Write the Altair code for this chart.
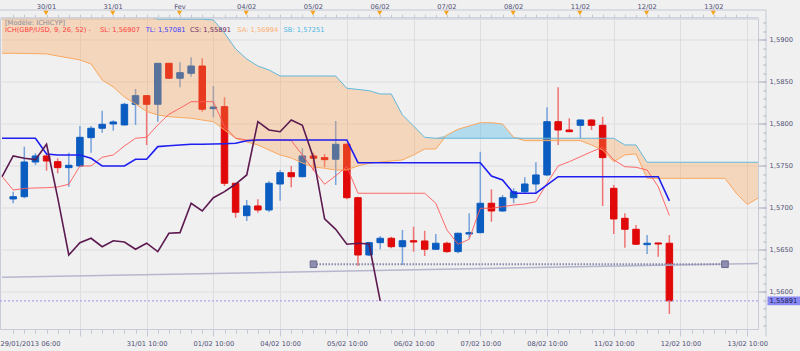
import altair as alt
import pandas as pd

# ---------------- data ----------------
opens = [1.57104, 1.57131, 1.57544, 1.57616, 1.57548, 1.57477, 1.57497, 1.57834, 1.57946, 1.57997,
         1.57985, 1.58231, 1.58334, 1.58231, 1.58719, 1.58541, 1.58600, 1.58687, 1.58179, 1.58203,
         1.57291, 1.56905, 1.57021, 1.56973, 1.57282, 1.57417, 1.57369, 1.57616, 1.57596, 1.57577,
         1.57755, 1.57119, 1.56437, 1.56584, 1.56636, 1.56536, 1.56607, 1.56604, 1.56505, 1.56577,
         1.56477, 1.56687, 1.56703, 1.57053, 1.56961, 1.57119, 1.57191, 1.57282, 1.57390, 1.58024,
         1.57925, 1.57981, 1.58044, 1.57981, 1.57231, 1.56874, 1.56743, 1.56560, 1.56580, 1.56577]
highs = [1.57191, 1.57727, 1.57648, 1.57640, 1.57588, 1.57655, 1.57973, 1.57973, 1.58155, 1.58041,
         1.58250, 1.58413, 1.58342, 1.58723, 1.58723, 1.58731, 1.58791, 1.58779, 1.58449, 1.58315,
         1.57294, 1.57092, 1.57100, 1.57318, 1.57449, 1.57497, 1.57707, 1.57655, 1.57640, 1.58032,
         1.57767, 1.57131, 1.56596, 1.56663, 1.56655, 1.56735, 1.56774, 1.56727, 1.56687, 1.56596,
         1.56703, 1.56934, 1.57667, 1.57219, 1.57152, 1.57231, 1.57362, 1.57541, 1.58196, 1.58434,
         1.58065, 1.58050, 1.58053, 1.58084, 1.57271, 1.56934, 1.56794, 1.56675, 1.56586, 1.56675]
lows = [1.57053, 1.57112, 1.57509, 1.57441, 1.57410, 1.57250, 1.57488, 1.57655, 1.57893, 1.57917,
        1.57981, 1.57985, 1.57747, 1.58024, 1.58533, 1.58434, 1.58560, 1.58143, 1.58077, 1.57259,
        1.56881, 1.56842, 1.56941, 1.56949, 1.57084, 1.57243, 1.57362, 1.57441, 1.57481, 1.57271,
        1.57100, 1.56306, 1.56425, 1.56505, 1.56517, 1.56318, 1.56477, 1.56425, 1.56497, 1.56465,
        1.56457, 1.56636, 1.56696, 1.56834, 1.56953, 1.57053, 1.57172, 1.57172, 1.57378, 1.57747,
        1.57902, 1.57827, 1.57925, 1.57021, 1.56687, 1.56524, 1.56556, 1.56449, 1.56417, 1.55735]
closes = [1.57131, 1.57544, 1.57616, 1.57556, 1.57477, 1.57505, 1.57838, 1.57946, 1.57993, 1.58021,
          1.58231, 1.58334, 1.58231, 1.58719, 1.58541, 1.58608, 1.58687, 1.58172, 1.58199, 1.57291,
          1.56946, 1.57021, 1.56973, 1.57291, 1.57417, 1.57369, 1.57616, 1.57588, 1.57572, 1.57755,
          1.57119, 1.56437, 1.56584, 1.56636, 1.56536, 1.56607, 1.56592, 1.56505, 1.56577, 1.56477,
          1.56696, 1.56703, 1.57053, 1.56961, 1.57119, 1.57191, 1.57282, 1.57390, 1.58024, 1.57925,
          1.57905, 1.58044, 1.57981, 1.57596, 1.56866, 1.56743, 1.56565, 1.56577, 1.56568, 1.55891]

# Tenkan (SL) and Kijun (TL), candle index -1 .. 59
tenkan = [1.57372, 1.57211, 1.57229, 1.57235, 1.57238, 1.57247, 1.57279, 1.57497, 1.57497, 1.57600,
          1.57628, 1.57735, 1.57827, 1.57838, 1.57985, 1.58112, 1.58184, 1.58262, 1.58262, 1.58262,
          1.57965, 1.57827, 1.57806, 1.57806, 1.57806, 1.57806, 1.57798, 1.57628, 1.57449, 1.57279,
          1.57381, 1.57488, 1.57172, 1.57172, 1.57172, 1.57172, 1.57172, 1.57172, 1.57172, 1.57053,
          1.56735, 1.56565, 1.56624, 1.56993, 1.56993, 1.57012, 1.57032, 1.57044, 1.57072, 1.57291,
          1.57497, 1.57548, 1.57607, 1.57667, 1.57719, 1.57568, 1.57488, 1.57481, 1.57449, 1.57250,
          1.56907]
kijun = [1.57827, 1.57827, 1.57827, 1.57827, 1.57640, 1.57628, 1.57628, 1.57628, 1.57588, 1.57497,
         1.57497, 1.57497, 1.57577, 1.57577, 1.57727, 1.57738, 1.57747, 1.57755, 1.57755, 1.57759,
         1.57762, 1.57767, 1.57798, 1.57806, 1.57806, 1.57806, 1.57806, 1.57806, 1.57806, 1.57806,
         1.57806, 1.57806, 1.57536, 1.57536, 1.57536, 1.57536, 1.57536, 1.57536, 1.57536, 1.57536,
         1.57536, 1.57536, 1.57536, 1.57536, 1.57378, 1.57330, 1.57172, 1.57172, 1.57172, 1.57271,
         1.57369, 1.57369, 1.57369, 1.57369, 1.57369, 1.57369, 1.57369, 1.57369, 1.57369, 1.57369,
         1.57081]
# Chikou (CS), candle index -1 .. 33
chikou = [1.57369, 1.57616, 1.57588, 1.57572, 1.57755, 1.57119, 1.56437, 1.56584, 1.56636, 1.56536,
          1.56607, 1.56592, 1.56505, 1.56577, 1.56477, 1.56696, 1.56703, 1.57053, 1.56961, 1.57119,
          1.57191, 1.57282, 1.57390, 1.58024, 1.57925, 1.57905, 1.58044, 1.57981, 1.57596, 1.56866,
          1.56743, 1.56565, 1.56577, 1.56568, 1.55891]
# Senkou A / B, candle index -1 .. 67
senkou_a = [1.58838, 1.58838, 1.58836, 1.58834, 1.58830, 1.58806, 1.58783, 1.58759, 1.58711, 1.58521,
            1.58437, 1.58318, 1.58235, 1.58146, 1.58104, 1.58084, 1.58074, 1.58065, 1.58044, 1.58024,
            1.57925, 1.57827, 1.57782, 1.57747, 1.57687, 1.57628, 1.57592, 1.57532, 1.57485, 1.57469,
            1.57449, 1.57449, 1.57497, 1.57529, 1.57544, 1.57556, 1.57568, 1.57628, 1.57699, 1.57699,
            1.57866, 1.57934, 1.57973, 1.58012, 1.58012, 1.57997, 1.57838, 1.57798, 1.57798, 1.57798,
            1.57798, 1.57798, 1.57798, 1.57747, 1.57687, 1.57548, 1.57628, 1.57640, 1.57350, 1.57350,
            1.57350, 1.57350, 1.57350, 1.57350, 1.57350, 1.57350, 1.57175, 1.57038, 1.57116]
senkou_b = [1.59378, 1.59378, 1.59378, 1.59378, 1.59378, 1.59378, 1.59378, 1.59378, 1.59378, 1.59378,
            1.59378, 1.59378, 1.59378, 1.59294, 1.59245, 1.59245, 1.59245, 1.59245, 1.59245, 1.59235,
            1.59080, 1.58890, 1.58771, 1.58687, 1.58640, 1.58568, 1.58568, 1.58568, 1.58568, 1.58568,
            1.58568, 1.58422, 1.58408, 1.58393, 1.58354, 1.58354, 1.58104, 1.57973, 1.57838, 1.57827,
            1.57827, 1.57827, 1.57827, 1.57827, 1.57827, 1.57827, 1.57827, 1.57827, 1.57827, 1.57827,
            1.57827, 1.57827, 1.57827, 1.57827, 1.57827, 1.57827, 1.57747, 1.57747, 1.57541, 1.57541,
            1.57541, 1.57541, 1.57541, 1.57541, 1.57541, 1.57541, 1.57541, 1.57541, 1.57541]

bottom_ticks = [6, 12, 18, 24, 30, 36, 42, 48, 54, 60, 66]
bottom_labels = ["", "31/01 10:00", "01/02 10:00", "04/02 10:00", "05/02 10:00", "06/02 10:00",
                 "07/02 10:00", "08/02 10:00", "11/02 10:00", "12/02 10:00", "13/02 10:00"]
first_label = "29/01/2013 06:00"
top_ticks = [2.95, 8.95, 14.95, 20.95, 26.95, 32.95, 38.95, 44.95, 50.95, 56.95, 62.95]
top_labels = ["30/01", "31/01", "Fev", "04/02", "05/02", "06/02", "07/02", "08/02", "11/02", "12/02", "13/02"]
minor_x = list(range(0, 67))
y_major = [1.56, 1.565, 1.57, 1.575, 1.58, 1.585, 1.59]
y_minor = [round(1.556 + 0.001 * k, 3) for k in range(37)]

trend_idx = [-1, 67]
trend_val = [1.56171, 1.56337]
support_idx = [27, 64]
support_val = 1.56327
last_price = 1.55891

legend_l1 = "[Modèle: ICHICYP]"
legend_parts = [("ICH(GBP/USD, 9, 26, 52) -", "#ff3b3b"), ("SL: 1,56907", "#ff3b3b"),
                ("TL: 1,57081", "#3a3aff"), ("CS: 1,55891", "#6e2a62"),
                ("SA: 1,56994", "#ffae6e"), ("SB: 1,57251", "#4cb6e6")]
legend_x = [5, 100, 145.7, 190, 237.3, 283.6]

# ---------------- frames ----------------
cdf = pd.DataFrame({"i": list(range(len(opens))), "o": opens, "h": highs, "l": lows, "c": closes})
ldf = pd.DataFrame({"i": list(range(-1, 60)), "tenkan": tenkan, "kijun": kijun})
chdf = pd.DataFrame({"i": list(range(-1, 34)), "cs": chikou})
kdf = pd.DataFrame({"i": list(range(-1, 68)), "sa": senkou_a, "sb": senkou_b})
trdf = pd.DataFrame({"i": trend_idx, "v": trend_val})
spdf = pd.DataFrame({"i": support_idx, "v": [support_val, support_val]})
lpdf = pd.DataFrame({"v": [last_price], "t": ["1,55891"]})
ttdf = pd.DataFrame({"t": top_ticks})
gdf = pd.DataFrame({"v": [1.57]})

FONT = "DejaVu Sans"
FS = 6.7
LABEL_C = "#4e4e74"
LINE_C = "#c4c8d6"

xs = alt.Scale(domain=[-0.7365, 66.52], nice=False, zero=False)
ys = alt.Scale(domain=[1.55556, 1.592524], nice=False, zero=False)


def X(f, axis=None):
    return alt.X(f, type="quantitative", scale=xs, axis=axis)


def Y(f, axis=None):
    return alt.Y(f, type="quantitative", scale=ys, axis=axis)


def lab_expr(labels, start):
    arr = "[" + ",".join("'" + s + "'" for s in labels) + "]"
    return arr + "[round((datum.value - " + str(start) + ") / 6)]"


ax_bottom = alt.Axis(orient="bottom", values=bottom_ticks, labelExpr=lab_expr(bottom_labels, 6),
                     tickSize=7, tickColor=LINE_C, domain=False, grid=True, gridColor="#dedee2",
                     labelFont=FONT, labelFontSize=FS, labelColor=LABEL_C, labelPadding=4,
                     labelFlush=False, labelOverlap=False, title=None)
ax_bottom_minor = alt.Axis(orient="bottom", values=minor_x, labels=False, tickSize=4, tickColor=LINE_C,
                           domain=False, grid=False, title=None)
ax_top = alt.Axis(orient="top", values=top_ticks, labelExpr=lab_expr(top_labels, 2.95), offset=1.2,
                  tickSize=0, domain=True, domainColor=LINE_C, grid=False, labelFont=FONT,
                  labelFontSize=FS, labelColor=LABEL_C, labelPadding=8, labelFlush=False,
                  labelOverlap=False, title=None)
ax_top_minor = alt.Axis(orient="top", values=minor_x, labels=False, tickSize=3, tickColor=LINE_C,
                        offset=1.2, domain=False, grid=False, title=None)
ax_right = alt.Axis(orient="right", values=y_major,
                    labelExpr="replace(format(datum.value, '.4f'), '.', ',')",
                    tickSize=8, tickColor="#a8acc0", domain=False, grid=True, gridColor="#dedee2",
                    labelFont=FONT, labelFontSize=FS, labelColor=LABEL_C, labelPadding=3,
                    labelOverlap=False, labelFlush=False, title=None)
ax_right_minor = alt.Axis(orient="right", values=y_minor, labels=False, tickSize=3, tickColor="#a8acc0",
                          offset=5, domain=False, grid=False, title=None)

UP_BODY, DN_BODY = "#0b5cc0", "#e00808"
UP_WICK, DN_WICK = "#78a2da", "#f07474"
is_up = alt.datum.c >= alt.datum.o

wicks = alt.Chart(cdf).mark_rule(strokeWidth=1.5, clip=True).encode(
    x=X("i", ax_bottom), y=Y("l", ax_right), y2="h",
    color=alt.condition(is_up, alt.value(UP_WICK), alt.value(DN_WICK)))
bodies = alt.Chart(cdf).mark_bar(size=6.5, strokeWidth=1, clip=True).encode(
    x=X("i", ax_bottom_minor), y=Y("o", ax_right_minor), y2="c",
    color=alt.condition(is_up, alt.value(UP_BODY), alt.value(DN_BODY)),
    stroke=alt.condition(is_up, alt.value(UP_BODY), alt.value(DN_BODY)))

cloud_or = alt.Chart(kdf).transform_calculate(top="max(datum.sa, datum.sb)").mark_area(
    color="#f9a050", opacity=0.33, clip=True).encode(x=X("i", ax_top), y=Y("sa"), y2="top:Q")
cloud_bl = alt.Chart(kdf).transform_calculate(top="max(datum.sa, datum.sb)").mark_area(
    color="#66c0e8", opacity=0.45, clip=True).encode(x=X("i", ax_top_minor), y=Y("sb"), y2="top:Q")
sa_line = alt.Chart(kdf).mark_line(color="#f9a860", strokeWidth=1, clip=True).encode(x=X("i"), y=Y("sa"))
sb_line = alt.Chart(kdf).mark_line(color="#62b8dc", strokeWidth=1, clip=True).encode(x=X("i"), y=Y("sb"))

trend = alt.Chart(trdf).mark_line(color="#b6b6ce", strokeWidth=1.5, clip=True).encode(x=X("i"), y=Y("v"))
support = alt.Chart(spdf).mark_line(color="#8a8aac", strokeWidth=2, strokeDash=[1.5, 1.5], clip=True).encode(
    x=X("i"), y=Y("v"))
support_pts = alt.Chart(spdf).mark_square(size=44, color="#8e8eb0", stroke="#6a6a8e", strokeWidth=1,
                                          opacity=1).encode(x=X("i"), y=Y("v"))
last_rule = alt.Chart(lpdf).mark_rule(color="#a294f2", strokeWidth=1, strokeDash=[2, 2]).encode(
    y=Y("v"), x=alt.value(0), x2=alt.value(758))

tenkan_l = alt.Chart(ldf).mark_line(color="#ff5a5a", strokeWidth=1, opacity=0.9, clip=True).encode(
    x=X("i"), y=Y("tenkan"))
kijun_l = alt.Chart(ldf).mark_line(color="#1e1ef2", strokeWidth=1.6, clip=True).encode(x=X("i"), y=Y("kijun"))
chikou_l = alt.Chart(chdf).mark_line(color="#5c1a50", strokeWidth=1.6, clip=True).encode(x=X("i"), y=Y("cs"))

box = alt.Chart(lpdf).mark_point(shape="M-1,-0.26L1,-0.26L1,0.26L-1,0.26Z", size=1089, filled=True,
                                 color="#8a8af6", opacity=1).encode(x=alt.value(784), y=Y("v"))
box_txt = alt.Chart(lpdf).mark_text(font=FONT, fontSize=FS, color="#15154a", align="left",
                                    baseline="middle").encode(x=alt.value(769.5), y=Y("v"), text="t:N")

ruler_top = alt.Chart(gdf).mark_rule(color=LINE_C, strokeWidth=1).encode(
    x=alt.value(0), x2=alt.value(766), y=alt.value(-8.5))
axis_line = alt.Chart(gdf).mark_rule(color=LINE_C, strokeWidth=1).encode(
    x=alt.value(766), y=alt.value(-8.5), y2=alt.value(318))
tri = alt.Chart(ttdf).mark_point(shape="triangle-down", filled=True, size=26, color="#f5a31e",
                                 opacity=1).encode(x=X("t"), y=alt.value(-5.5))
first_txt = alt.Chart(gdf).mark_text(text=first_label, font=FONT, fontSize=FS, color=LABEL_C,
                                     align="left", baseline="middle").encode(
    x=alt.value(0.5), y=alt.value(325.8))
leg1 = alt.Chart(gdf).mark_text(text=legend_l1, font=FONT, fontSize=FS, color="#8a8a9c",
                                align="left", baseline="middle").encode(x=alt.value(5), y=alt.value(4.2))
legs = [alt.Chart(gdf).mark_text(text=t, font=FONT, fontSize=FS, color=c, align="left",
                                 baseline="middle").encode(x=alt.value(px), y=alt.value(11.8))
        for (t, c), px in zip(legend_parts, legend_x)]

chart = alt.layer(
    wicks, bodies, cloud_or, cloud_bl, sa_line, sb_line, trend, support, last_rule,
    tenkan_l, kijun_l, chikou_l, support_pts, box, box_txt, ruler_top, axis_line, tri,
    first_txt, leg1, *legs
).resolve_axis(x="independent", y="independent").properties(
    width=758, height=310.5,
    padding={"left": 0, "top": 18.5, "right": 42, "bottom": 21.5},
    autosize=alt.AutoSizeParams(type="none"),
    background="#f0f0f0",
).configure_view(fill="#f0f0f0", stroke="#c8ccd8", strokeWidth=1)

chart.save("out.html", embed_options={"renderer": "svg", "actions": False})
